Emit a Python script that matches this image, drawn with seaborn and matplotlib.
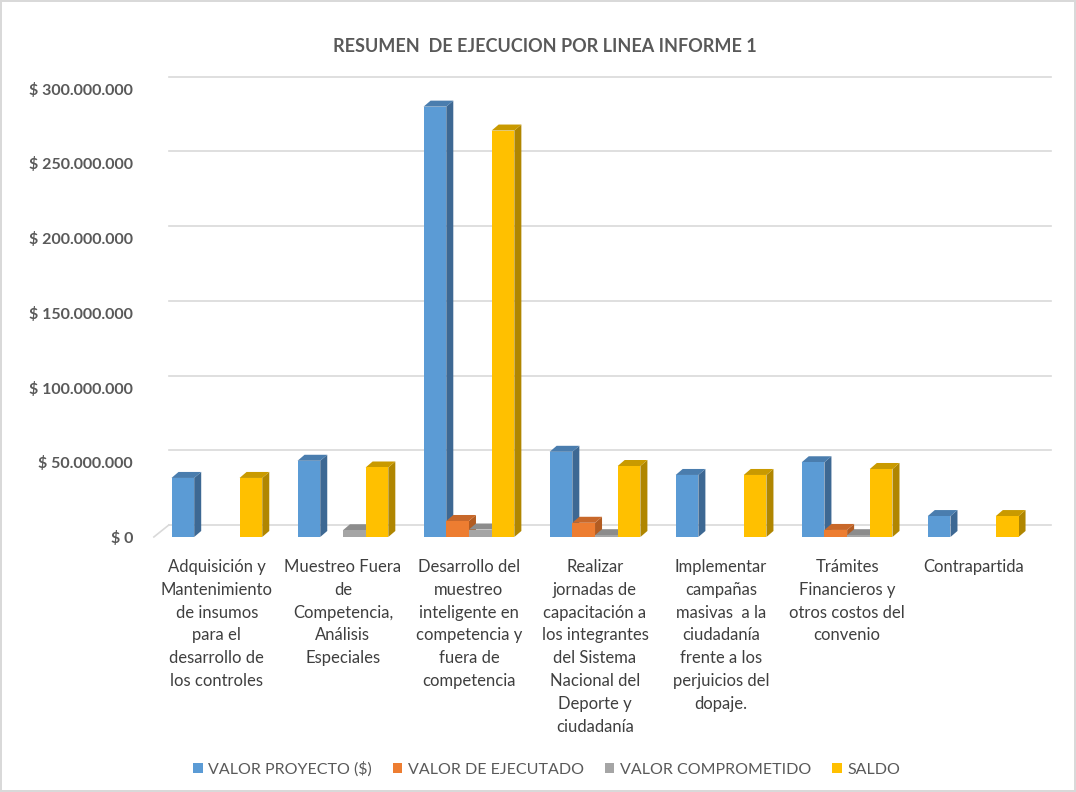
import numpy as np
import pandas as pd
import matplotlib
matplotlib.use('Agg')
import matplotlib.pyplot as plt
import matplotlib.transforms as mtransforms
from matplotlib.patches import Polygon, Patch
import seaborn as sb

# Datos (valores en pesos)
lineas = [
    'Adquisición y\nMantenimiento\nde insumos\npara el\ndesarrollo de\nlos controles',
    'Muestreo Fuera\nde\nCompetencia,\nAnálisis\nEspeciales',
    'Desarrollo del\nmuestreo\ninteligente en\ncompetencia y\nfuera de\ncompetencia',
    'Realizar\njornadas de\ncapacitación a\nlos integrantes\ndel Sistema\nNacional del\nDeporte y\nciudadanía',
    'Implementar\ncampañas\nmasivas  a la\nciudadanía\nfrente a los\nperjuicios del\ndopaje.',
    'Trámites\nFinancieros y\notros costos del\nconvenio',
    'Contrapartida',
]
series = ['VALOR PROYECTO ($)', 'VALOR DE EJECUTADO', 'VALOR COMPROMETIDO', 'SALDO']
valor_proyecto = [39.5e6, 51.0e6, 288.0e6, 57.0e6, 41.5e6, 50.0e6, 14.0e6]
valor_ejecutado = [0, 0, 10.7e6, 9.5e6, 0, 4.7e6, 0]
valor_comprometido = [0, 4.5e6, 5.0e6, 1.2e6, 0, 1.2e6, 0]
saldo = [39.5e6, 46.5e6, 272.0e6, 47.5e6, 41.5e6, 45.5e6, 14.0e6]
yticks = [0, 50e6, 100e6, 150e6, 200e6, 250e6, 300e6]
ytick_labels = ['$ 0', '$ 50.000.000', '$ 100.000.000', '$ 150.000.000',
                '$ 200.000.000', '$ 250.000.000', '$ 300.000.000']

colores = ['#5B9BD5', '#ED7D31', '#A5A5A5', '#FFC000']
lados = ['#3D6893', '#B25C22', '#7B7B7B', '#B08600']
techos = ['#4A7DAE', '#C8682A', '#8C8C8C', '#C99A00']

df = pd.DataFrame({
    'linea': lineas * 4,
    'serie': [s for s in series for _ in lineas],
    'valor': valor_proyecto + valor_ejecutado + valor_comprometido + saldo,
})

plt.rcParams['font.family'] = ['Lato', 'DejaVu Sans']
texto = '#595959'

fig = plt.figure(figsize=(10.76, 7.92), dpi=100)
fig.patch.set_edgecolor('#D9D9D9')
fig.patch.set_linewidth(1.5)
ax = fig.add_axes([0.143, 0.322, 0.82, 0.566])

sb.barplot(data=df, x='linea', y='valor', hue='serie', palette=colores,
           saturation=1, width=0.72, ax=ax, legend=False, zorder=2)

ax.set_ylim(0, 300e6)
ax.set_xlim(-0.5, len(lineas) - 0.5)
ax.set_yticks(yticks)
ax.set_yticklabels(ytick_labels, fontsize=11.5, fontweight='bold', color=texto)
ax.tick_params(axis='y', length=0, pad=15)
ax.tick_params(axis='x', length=0, pad=16)
for lab in ax.get_xticklabels():
    lab.set_fontsize(12)
    lab.set_color('#3F3F3F')
    lab.set_linespacing(1.52)
    lab.set_verticalalignment('top')
ax.set_xlabel('')
ax.set_ylabel('')
for s in ax.spines.values():
    s.set_visible(False)

# Pared del fondo: lineas de cuadricula desplazadas hacia atras
ax.yaxis.grid(True, color='#D9D9D9', linewidth=1.2)
ax.set_axisbelow(True)
desplaza = mtransforms.ScaledTranslation(15 / 100, 12 / 100, fig.dpi_scale_trans)
for gl in ax.get_ygridlines():
    gl.set_transform(gl.get_transform() + desplaza)
    gl.set_clip_on(False)
x0, x1 = ax.get_xlim()
piso = ax.transData.transform([(x0, 0)])[0]
ax.add_line(plt.Line2D([piso[0], piso[0] + 15], [piso[1], piso[1] + 12],
                       color='#D9D9D9', lw=1.2, transform=mtransforms.IdentityTransform(),
                       zorder=0.5, clip_on=False))

# Efecto 3D: caras laterales y superiores de cada barra
fig.canvas.draw()
dx, dy = 7, 6
ident = mtransforms.IdentityTransform()
for i, cont in enumerate(ax.containers):
    for bar in cont:
        h = bar.get_height()
        if h <= 0:
            continue
        x = bar.get_x()
        w = bar.get_width()
        (ax_, ay_), (bx_, by_) = ax.transData.transform([(x, 0), (x + w, h)])
        lado = Polygon([(bx_, ay_), (bx_ + dx, ay_ + dy), (bx_ + dx, by_ + dy), (bx_, by_)],
                       closed=True, facecolor=lados[i], edgecolor='none',
                       transform=ident, zorder=1.5)
        techo = Polygon([(ax_, by_), (ax_ + dx, by_ + dy), (bx_ + dx, by_ + dy), (bx_, by_)],
                        closed=True, facecolor=techos[i], edgecolor='none',
                        transform=ident, zorder=1.5)
        ax.add_artist(lado)
        ax.add_artist(techo)

fig.suptitle('RESUMEN  DE EJECUCION POR LINEA INFORME 1', y=0.952, x=0.506,
             fontsize=13, fontweight='bold', color=texto)

handles = [Patch(facecolor=c, edgecolor='none') for c in colores]
fig.legend(handles, series, loc='center', bbox_to_anchor=(0.508, 0.029), ncol=4,
           frameon=False, fontsize=11.5, labelcolor=texto, handlelength=0.6,
           handleheight=0.6, handletextpad=0.35, columnspacing=1.3)

fig.savefig('out.png', dpi=100)
